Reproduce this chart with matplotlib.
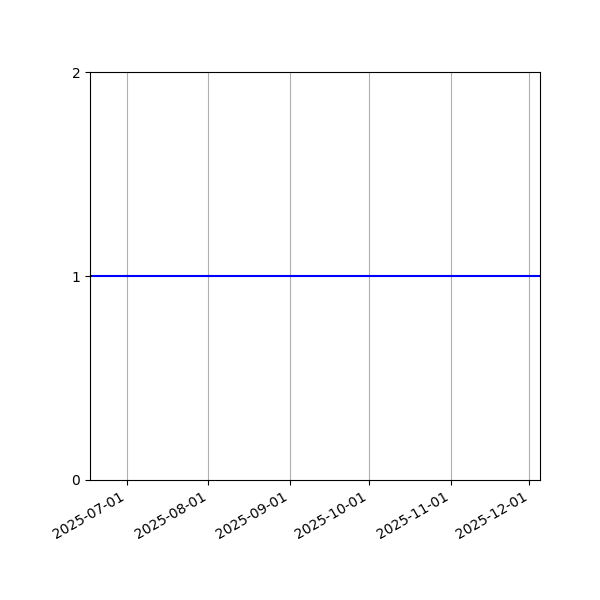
import matplotlib
matplotlib.use("Agg")
import matplotlib.pyplot as plt
import matplotlib.dates as mdates
import pandas as pd

dates = pd.to_datetime(["2025-06-17", "2025-12-05"])
values = [1, 1]
y_ticks = [0, 1, 2]

fig, ax = plt.subplots(figsize=(6, 6), dpi=100)
ax.plot(dates, values, color="blue", linewidth=1.5)

ax.set_xlim(dates[0], dates[-1])
ax.set_ylim(0, 2)
ax.set_yticks(y_ticks)
ax.xaxis.set_major_locator(mdates.MonthLocator())
ax.xaxis.set_major_formatter(mdates.DateFormatter("%Y-%m-%d"))
ax.grid(True, axis="x")

fig.autofmt_xdate()
fig.subplots_adjust(left=0.15, right=0.9, top=0.88, bottom=0.2)
fig.savefig("out.png", dpi=100)
